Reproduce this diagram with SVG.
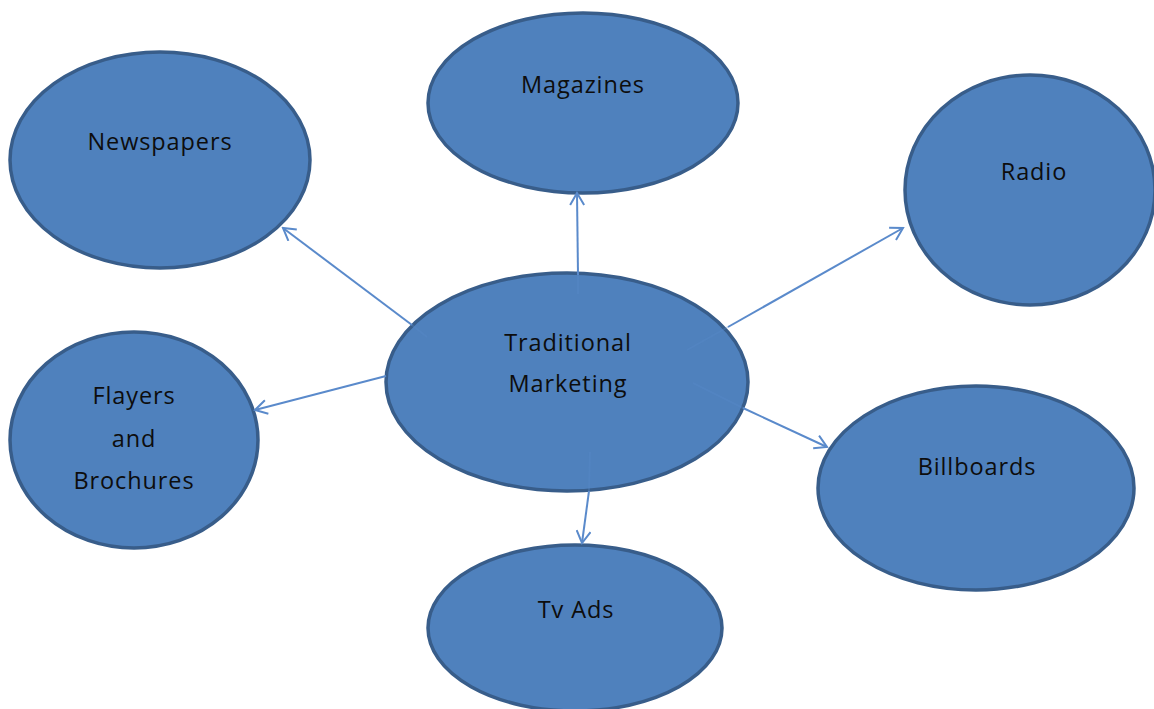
<svg xmlns="http://www.w3.org/2000/svg" width="1154" height="709" viewBox="0 0 1154 709">
<defs>
<style>
.node ellipse{fill:#4F81BD;stroke:#385D8A;stroke-width:3.5}
.node text{font-family:"Open Sans","Liberation Sans",sans-serif;font-size:23.5px;letter-spacing:0.9px;fill:#0d0d0d;text-anchor:middle}
.conn line{stroke:#5A8ACB;stroke-width:2;fill:none}
.conn line.stub{stroke-opacity:0.3;marker-end:none}
.conn line.main{marker-end:url(#arr)}
</style>
<marker id="arr" viewBox="0 0 16 16" refX="14" refY="8" markerWidth="16" markerHeight="16" markerUnits="userSpaceOnUse" orient="auto">
<path d="M2,1 L14,8 L2,15" fill="none" stroke="#5A8ACB" stroke-width="2"/>
</marker>
</defs>
<rect width="1154" height="709" fill="#fff"/>
<g id="node-traditional" class="node">
<ellipse cx="567" cy="382" rx="181" ry="109"/>
<text x="568" y="351">Traditional</text>
<text x="568" y="392">Marketing</text>
</g>
<g id="node-newspapers" class="node">
<ellipse cx="160" cy="160" rx="150" ry="108"/>
<text x="160" y="150">Newspapers</text>
</g>
<g id="node-magazines" class="node">
<ellipse cx="583" cy="103" rx="155" ry="90"/>
<text x="583" y="93">Magazines</text>
</g>
<g id="node-radio" class="node">
<ellipse cx="1030" cy="190" rx="125" ry="115"/>
<text x="1034" y="180">Radio</text>
</g>
<g id="node-flayers" class="node">
<ellipse cx="134" cy="440" rx="124" ry="108"/>
<text x="134" y="404">Flayers</text>
<text x="134" y="447">and</text>
<text x="134" y="489">Brochures</text>
</g>
<g id="node-billboards" class="node">
<ellipse cx="976" cy="488" rx="158" ry="102"/>
<text x="977" y="475">Billboards</text>
</g>
<g id="node-tvads" class="node">
<ellipse cx="575" cy="628" rx="147" ry="83"/>
<text x="576" y="618">Tv Ads</text>
</g>
<g id="connectors" class="conn">
<line class="stub" x1="578" y1="294" x2="578" y2="275"/>
<line class="main" x1="578" y1="275" x2="577" y2="193"/>
<line class="stub" x1="427" y1="337" x2="412" y2="325"/>
<line class="main" x1="412" y1="325" x2="283" y2="228"/>
<line class="main" x1="386" y1="376" x2="255" y2="410"/>
<line class="stub" x1="687" y1="350" x2="728" y2="327"/>
<line class="main" x1="728" y1="327" x2="903" y2="228"/>
<line class="stub" x1="693" y1="383" x2="743" y2="408"/>
<line class="main" x1="743" y1="408" x2="827" y2="447"/>
<line class="stub" x1="590" y1="452" x2="589" y2="491"/>
<line class="main" x1="589" y1="491" x2="582" y2="543"/>
</g>
</svg>
